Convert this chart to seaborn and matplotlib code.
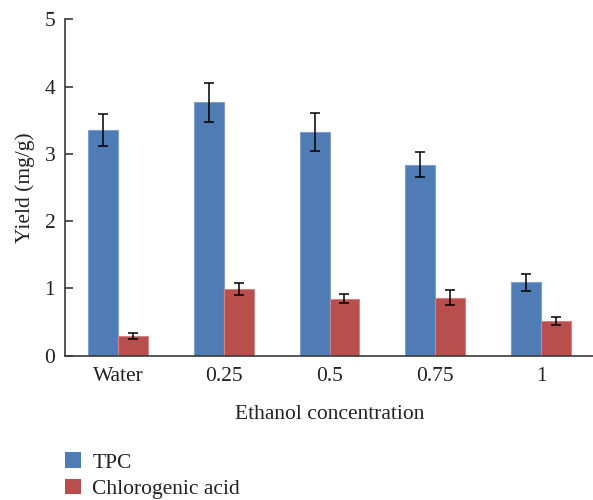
import matplotlib
matplotlib.use("Agg")
import matplotlib.pyplot as plt
import seaborn as sns
import pandas as pd
import numpy as np
from matplotlib.patches import Patch

# Yield of TPC and chlorogenic acid per extraction solvent
categories = ["Water", "0.25", "0.5", "0.75", "1"]
tpc = [3.35, 3.77, 3.32, 2.84, 1.09]
tpc_err = [0.24, 0.29, 0.28, 0.19, 0.13]
cga = [0.29, 0.99, 0.85, 0.86, 0.51]
cga_err = [0.045, 0.09, 0.07, 0.11, 0.06]
series = ["TPC", "Chlorogenic acid"]
colors = ["#4F7CB4", "#B94F4D"]
edge_colors = ["#7F9FCB", "#D08584"]

sns.set_theme(style="white")
plt.rcParams["font.family"] = ["Liberation Serif", "DejaVu Serif"]

FS = 15.5

df = pd.DataFrame({
    "concentration": categories * 2,
    "yield": tpc + cga,
    "err": tpc_err + cga_err,
    "series": [series[0]] * len(categories) + [series[1]] * len(categories),
})

fig = plt.figure(figsize=(5.93, 5.00), dpi=100)
ax = fig.add_axes([65 / 593, 1 - 355.7 / 500, 529 / 593, (355.7 - 19.3) / 500])

sns.barplot(data=df, x="concentration", y="yield", hue="series",
            order=categories, hue_order=series, palette=colors,
            width=0.566, errorbar=None, saturation=1, ax=ax,
            linewidth=0, legend=False)

# thin lighter outline and error bars for each drawn bar
for container, s, ec in zip(ax.containers, series, edge_colors):
    for p in container.patches:
        p.set_edgecolor(ec)
        p.set_linewidth(0.8)
    sub = df[df["series"] == s].set_index("concentration").loc[categories]
    xs = [p.get_x() + p.get_width() / 2 for p in container.patches]
    ax.errorbar(xs, sub["yield"].values, yerr=sub["err"].values, fmt="none",
                ecolor="black", elinewidth=1.1, capsize=3.6, capthick=1.1, zorder=5)

ax.set_xlim(-0.5, 4.5)
ax.set_ylim(0, 5)
ax.set_yticks([0, 1, 2, 3, 4, 5])
ax.set_yticklabels(["0", "1", "2", "3", "4", "5"])

for side in ["top", "right"]:
    ax.spines[side].set_visible(False)
for side in ["left", "bottom"]:
    ax.spines[side].set_color("#3a3a3a")
    ax.spines[side].set_linewidth(1.2)

ax.tick_params(axis="y", direction="in", length=6, width=1.2, color="#3a3a3a",
               labelsize=FS, pad=7, left=True)
ax.tick_params(axis="x", length=0, labelsize=FS, pad=8)
for lab in ax.get_xticklabels() + ax.get_yticklabels():
    lab.set_color("#222222")

ax.set_xlabel("Ethanol concentration", fontsize=FS, color="#222222", labelpad=14)
ax.set_ylabel("Yield (mg/g)", fontsize=FS, color="#222222", labelpad=7)

handles = [Patch(facecolor=c, edgecolor="none", label=s) for c, s in zip(colors, series)]
fig.legend(handles=handles, loc="upper left", bbox_to_anchor=(59 / 593, 1 - 446 / 500),
           frameon=False, fontsize=FS, handlelength=0.7, handleheight=0.7,
           handletextpad=0.55, labelspacing=0.3, labelcolor="#222222",
           borderaxespad=0, borderpad=0.3)

fig.savefig("out.png", dpi=100)
